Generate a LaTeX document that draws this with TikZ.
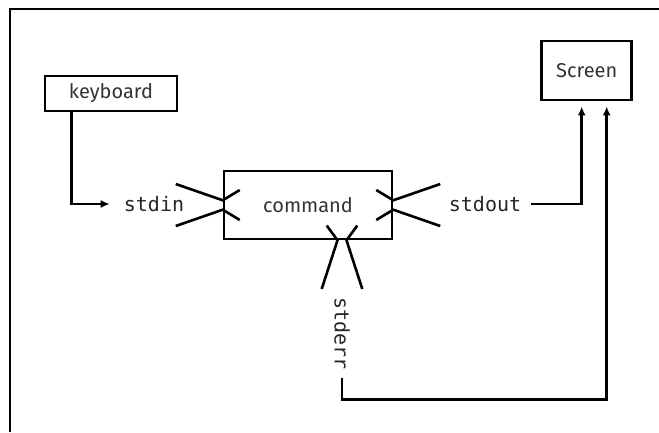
\documentclass[tikz,border=0pt]{standalone}
\usepackage{fontspec}
\setmainfont{Fira Sans}
\setmonofont{DejaVu Sans Mono}
\usetikzlibrary{arrows.meta,calc}

\tikzset{
  frame/.style={line width=1.5pt},
  box/.style={draw, line width=2.5pt, inner sep=0pt, text=black!80,
              font=\fontsize{20}{24}\selectfont},
  io/.style={inner sep=0pt, text=black!85, font=\ttfamily\fontsize{20}{24}\selectfont},
  flow/.style={line width=2.6pt, -{Latex[length=9pt,width=8pt]}},
  port/.style={line width=2.6pt, line join=miter},
}

\begin{document}
\begin{tikzpicture}[x=1pt,y=-1pt]
\useasboundingbox (0,0) rectangle (659,432);

% open frame along the top and left
\draw[frame] (10,432) -- (10,9) -- (659,9);

% boxes
\node[box, minimum width=132pt, minimum height=35pt] (keyboard) at (111,93.5) {keyboard};
\node[box, minimum width=90pt, minimum height=59pt] (screen) at (586.7,70.7) {Screen};
\node[box, minimum width=168pt, minimum height=68pt] (cmd) at (308,205) {command};

% stream labels
\node[io] (stdin) at (154,204) {stdin};
\node[io] (stdout) at (485,204) {stdout};
\node[io, rotate=-90] (stderr) at (342,333.3) {stderr};

% ports on the command box
\draw[port] ($(cmd.west)+(-47,-21)$) -- ($(cmd.west)+(0,-4.7)$) -- ($(cmd.west)+(17,-15)$);
\draw[port] ($(cmd.west)+(-47,21)$) -- ($(cmd.west)+(0,4.7)$) -- ($(cmd.west)+(17,15)$);
\draw[port] ($(cmd.east)+(47,-21)$) -- ($(cmd.east)+(0,-4.7)$) -- ($(cmd.east)+(-17,-15)$);
\draw[port] ($(cmd.east)+(47,21)$) -- ($(cmd.east)+(0,4.7)$) -- ($(cmd.east)+(-17,15)$);
\coordinate (errport) at ([xshift=34pt]cmd.south);
\draw[port] ($(errport)+(-20.3,48.7)$) -- ($(errport)+(-4.5,0)$) -- ($(errport)+(-15.3,-14.7)$);
\draw[port] ($(errport)+(20.3,48.7)$) -- ($(errport)+(4.5,0)$) -- ($(errport)+(15.3,-14.7)$);

% connectors
\draw[flow] ([xshift=28pt]keyboard.south west) |- ([xshift=-14pt]stdin.west);
\draw[flow, shorten >=5pt] ([xshift=10pt]stdout.east) -| ([xshift=-5pt]screen.south);
\draw[flow, shorten >=5pt] ([yshift=-8pt]stderr.east) -- ++(0,22) -| ([xshift=20pt]screen.south);
\end{tikzpicture}
\end{document}
